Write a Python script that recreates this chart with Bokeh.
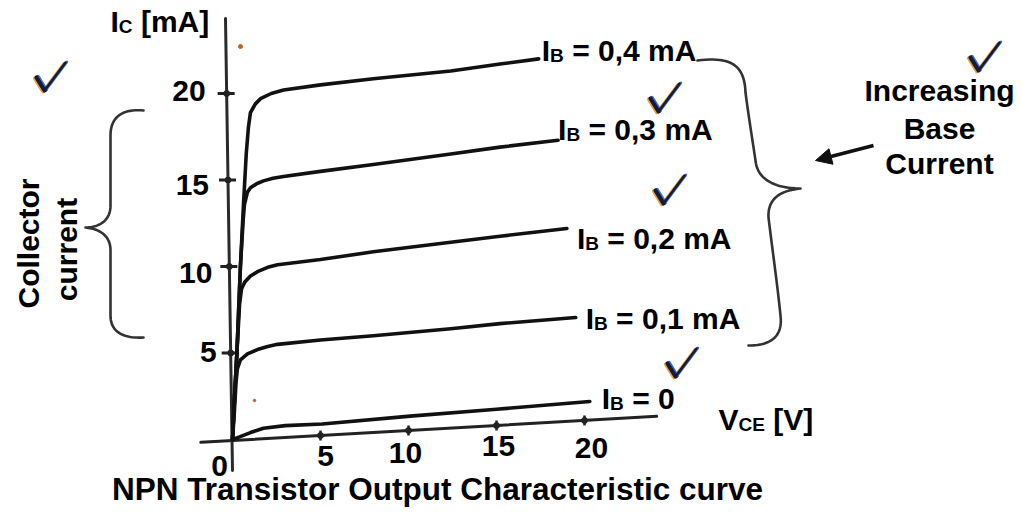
import numpy as np
from bokeh.plotting import figure
from bokeh.models import Range1d, Arrow, NormalHead
from bokeh.core.properties import value
from bokeh.embed import file_html
from bokeh.resources import INLINE

# ---------------- data ----------------
vce_04 = [0, 0.12, 0.25, 0.45, 0.62, 0.78, 0.9, 1.02, 1.3, 1.59, 2.2, 2.9, 5, 8, 12.4, 15.2, 17.4]
ic_04 = [0, 2.5, 5, 10, 13.5, 16.5, 18.0, 18.9, 19.4, 19.7, 20.0, 20.2, 20.5, 20.85, 21.3, 21.7, 22.0]

vce_03 = [0, 0.12, 0.25, 0.45, 0.6, 0.68, 0.85, 1.02, 1.4, 1.76, 2.3, 2.9, 5, 8, 12.4, 15.2, 18.5]
ic_03 = [0, 2.5, 5, 10, 12.6, 13.6, 14.3, 14.55, 14.8, 14.95, 15.1, 15.2, 15.5, 15.9, 16.5, 16.9, 17.3]

vce_02 = [0, 0.12, 0.25, 0.4, 0.51, 0.7, 1.02, 1.42, 2.0, 2.56, 5, 8, 12.4, 15.2, 19.0]
ic_02 = [0, 2.5, 5, 7.8, 8.7, 9.1, 9.45, 9.7, 9.95, 10.1, 10.4, 10.85, 11.4, 11.75, 12.2]

vce_01 = [0, 0.1, 0.2, 0.28, 0.45, 0.85, 1.42, 2.0, 2.56, 5, 8, 12.4, 15.2, 19.5]
ic_01 = [0, 1.5, 3.3, 4.1, 4.6, 4.95, 5.2, 5.38, 5.5, 5.75, 6.0, 6.4, 6.7, 7.05]

vce_00 = [0, 0.4, 1.02, 1.76, 3, 5.1, 10.1, 15, 20.3]
ic_00 = [0, 0.15, 0.4, 0.65, 0.8, 0.9, 1.35, 1.75, 2.2]

ib_values = ["0,4 mA", "0,3 mA", "0,2 mA", "0,1 mA", "0"]
x_ticks = [0, 5, 10, 15, 20]
x_tick_labels = ["0", "5", "10", "15", "20"]
y_ticks = [5, 10, 15, 20]
y_tick_labels = ["5", "10", "15", "20"]
title_text = "NPN Transistor Output Characteristic curve"
side_text = ["Increasing", "Base", "Current"]
left_text = ["Collector", "current"]

# ---------------- layout / scale ----------------
W, H = 1022, 518
M = 0
PX_PER_V = 17.6
PX_PER_MA = 17.3
OX, OY = 232, 439          # page pixel of (0 V, 0 mA)


def dx(px):
    return (px - OX) / PX_PER_V


def dy(py):
    return (OY - py) / PX_PER_MA


def to_px(v, i):
    return OX + v * PX_PER_V, OY - i * PX_PER_MA


FONT = value("Liberation Sans")
INK = "#111111"
TEXT_FIX = 0.41   # svg text sits lower than the requested baseline; compensate

p = figure(width=W, height=H, x_range=Range1d(dx(M), dx(M + W)),
           y_range=Range1d(dy(M + H), dy(M)),
           output_backend="svg", toolbar_location=None,
           x_axis_type=None, y_axis_type=None, min_border=0)
p.grid.visible = False
p.outline_line_color = None
p.background_fill_color = "white"
p.border_fill_color = "white"

# ---------------- hand-drawn axes ----------------
AXIS_TILT = 0.058      # mA per V: the drawn V axis rises to the right
AXIS_B = -0.06


def axis_y(v):
    return AXIS_TILT * v + AXIS_B


xa = np.array([-1.8, 24.1])
p.line(xa, axis_y(xa), line_width=3, color="#222222", line_cap="round")

ya_top, ya_bot = (225, 18), (232, 470)
p.line([dx(ya_top[0]), dx(ya_bot[0])], [dy(ya_top[1]), dy(ya_bot[1])],
       line_width=3, color="#2a2a2a", line_cap="round")


def yaxis_px_at(i):
    py = OY - i * PX_PER_MA
    t = (py - ya_top[1]) / (ya_bot[1] - ya_top[1])
    return ya_top[0] + t * (ya_bot[0] - ya_top[0])


for v in x_ticks[1:]:
    yy = axis_y(v)
    p.line([v, v], [yy - 5 / PX_PER_MA, yy + 5 / PX_PER_MA], line_width=2.5, color="#222222")
    p.scatter([v], [yy], size=6, color="#222222")

for i in y_ticks:
    xp = yaxis_px_at(i)
    p.line([dx(xp - 9), dx(xp + 8)], [i, i], line_width=3, color="#222222")
    p.scatter([dx(xp)], [i], size=6, color="#222222")

# ---------------- curves ----------------
curves = [(vce_04, ic_04), (vce_03, ic_03), (vce_02, ic_02), (vce_01, ic_01), (vce_00, ic_00)]
for vs, cs in curves:
    p.line(vs, cs, line_width=3.6, color=INK, line_cap="round", line_join="round")

# ---------------- text helpers ----------------
ARIAL_BOLD = {"I": .278, "B": .722, "C": .722, "E": .667, "V": .667, " ": .278,
              "=": .584, ",": .278, "m": .889, "A": .722, "[": .333, "]": .333}
for d in "0123456789":
    ARIAL_BOLD[d] = .556


def tw(s, size):
    return sum(ARIAL_BOLD.get(c, .6) for c in s) * size


def rich(parts, left_px, base_px):
    cur = left_px
    for txt, size, shift in parts:
        lead = len(txt) - len(txt.lstrip(" "))
        cur += lead * ARIAL_BOLD[" "] * size
        core = txt.lstrip(" ")
        p.text(x=[dx(cur)], y=[dy(base_px + shift - TEXT_FIX * size)], text=[core], text_font=FONT,
               text_font_style="bold", text_font_size=f"{size}px",
               text_baseline="alphabetic", text_align="left", text_color="black")
        cur += tw(core, size)


def plain(txt, x_px, base_px, size=30, align="center", rotated=False):
    if rotated:
        xx, yy, ang = x_px - TEXT_FIX * size, base_px, np.pi / 2
    else:
        xx, yy, ang = x_px, base_px - TEXT_FIX * size, 0.0
    p.text(x=[dx(xx)], y=[dy(yy)], text=[txt], text_font=FONT,
           text_font_style="bold", text_font_size=f"{size}px",
           text_baseline="alphabetic", text_align=align, text_color="black",
           angle=ang)


BIG, SUB = 30, 19
SUB_SHIFT = 0.5

label_offsets = [(3, 4), (0, 2), (10, 22), (10, 13), (12, 9)]
for (vs, cs), lab, (ox, oy) in zip(curves, ib_values, label_offsets):
    ex, ey = to_px(vs[-1], cs[-1])
    rich([("I", BIG, 0), ("B", SUB, SUB_SHIFT), (" = " + lab, BIG, 0)], ex + ox, ey + oy)

rich([("I", BIG, 0), ("C", SUB, SUB_SHIFT), (" [mA]", BIG, 0)], 110, 33)
rich([("V", BIG, 0), ("CE", SUB, SUB_SHIFT), (" [V]", BIG, 0)], 718, 431)

y_lab_off = [(-14, 11), (-17, 19), (-19, 17), (-21, 10)]
for i, lab, (ox, oy) in zip(y_ticks, y_tick_labels, y_lab_off):
    xp = yaxis_px_at(i)
    plain(lab, xp + ox, OY - i * PX_PER_MA + oy, align="right")

x_lab_off = [(-13, 38), (5, 33), (-3, 35), (2, 33), (7, 40)]
for v, lab, (ox, oy) in zip(x_ticks, x_tick_labels, x_lab_off):
    xp, yp = to_px(v, axis_y(v))
    plain(lab, xp + ox, yp + oy)

plain(title_text, 437, 501, size=31.5)

for txt, base in zip(side_text, [102, 140, 175]):
    plain(txt, 939, base)

plain(left_text[0], 40, 243, rotated=True)
plain(left_text[1], 78, 249, rotated=True)


# ---------------- braces ----------------
def cubic(p0, c0, c1, p1, n=24):
    t = np.linspace(0, 1, n)[:, None]
    pts = ((1 - t) ** 3) * np.array(p0) + 3 * ((1 - t) ** 2) * t * np.array(c0) \
        + 3 * (1 - t) * t ** 2 * np.array(c1) + t ** 3 * np.array(p1)
    return pts


def path(segs):
    pts = np.vstack(segs)
    return [dx(x) for x in pts[:, 0]], [dy(y) for y in pts[:, 1]]


right_brace = path([
    cubic((697, 60), (730, 56), (744, 64), (745, 92)),
    cubic((745, 92), (748, 115), (752, 140), (755, 160)),
    cubic((755, 160), (757, 182), (780, 188), (800, 188)),
    cubic((800, 188), (780, 190), (767, 198), (768, 217)),
    cubic((768, 217), (772, 250), (777, 285), (780, 315)),
    cubic((780, 315), (783, 340), (765, 345), (748, 345)),
])
p.line(*right_brace, line_width=2.6, color="#333333", line_join="round", line_cap="round")

left_brace = path([
    cubic((143, 110), (120, 108), (110, 118), (110, 135)),
    cubic((110, 135), (110, 160), (110, 185), (110, 205)),
    cubic((110, 205), (110, 222), (96, 227), (85, 227)),
    cubic((85, 227), (96, 228), (110, 233), (110, 250)),
    cubic((110, 250), (110, 275), (110, 295), (110, 315)),
    cubic((110, 315), (110, 333), (125, 338), (143, 337)),
])
p.line(*left_brace, line_width=2.6, color="#333333", line_join="round", line_cap="round")

p.add_layout(Arrow(end=NormalHead(size=16, fill_color="#111111", line_color="#111111"),
                   x_start=dx(873), y_start=dy(145), x_end=dx(815), y_end=dy(160),
                   line_width=3.5, line_color="#111111"))

# ---------------- check marks ----------------
check_at = [(36, 62), (650, 83), (655, 175), (667, 348), (970, 42)]
for cx, cy in check_at:
    for off, col, wa, wb in [((-1.6, 0.8), "#e8a33a", 4, 2.6), ((1.4, -0.6), "#3a6fd8", 4, 2.6),
                             ((0, 0), "#141a38", 4.2, 2.6)]:
        ox, oy = off
        p.line([dx(cx + ox), dx(cx + 8 + ox)], [dy(cy + 15 + oy), dy(cy + 28 + oy)],
               line_width=wa, color=col, line_cap="round")
        p.line([dx(cx + 8 + ox), dx(cx + 29 + ox)], [dy(cy + 28 + oy), dy(cy + oy)],
               line_width=wb, color=col, line_cap="round")

p.scatter([dx(240), dx(254)], [dy(46), dy(400)], size=[4, 2.5], color="#b5651d")

open("out.html", "w").write(file_html(p, INLINE))
